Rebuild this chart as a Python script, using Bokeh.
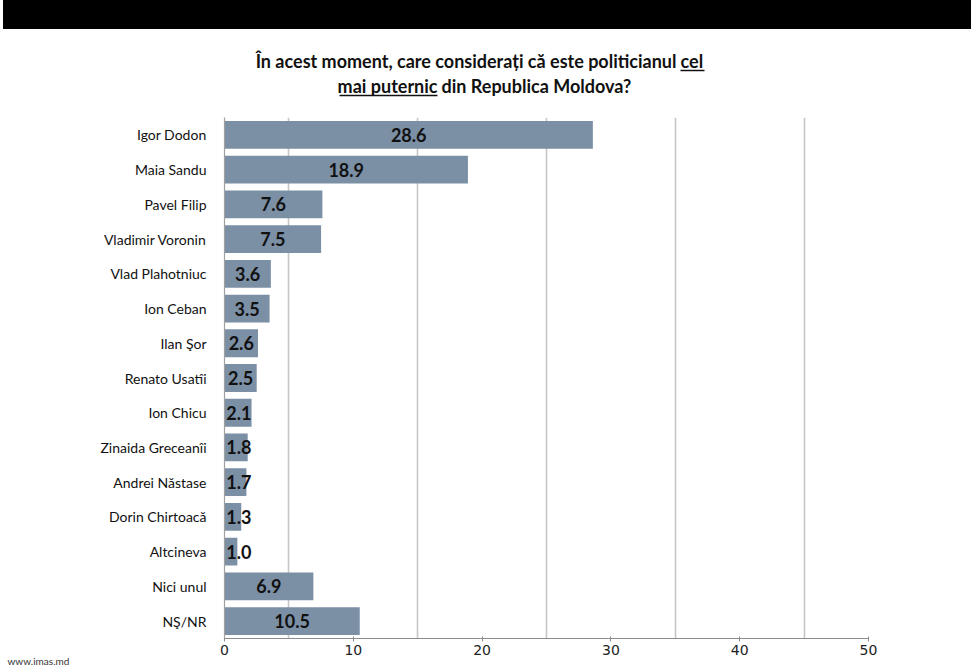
from bokeh.plotting import figure
from bokeh.models import Range1d, FactorRange, FixedTicker, ColumnDataSource, Label, Div
from bokeh.layouts import column
from bokeh.core.properties import value
from bokeh.embed import file_html
from bokeh.resources import INLINE

categories = ["Igor Dodon", "Maia Sandu", "Pavel Filip", "Vladimir Voronin",
              "Vlad Plahotniuc", "Ion Ceban", "Ilan Şor", "Renato Usatîi",
              "Ion Chicu", "Zinaida Greceanîi", "Andrei Năstase",
              "Dorin Chirtoacă", "Altcineva", "Nici unul", "NŞ/NR"]
values = [28.6, 18.9, 7.6, 7.5, 3.6, 3.5, 2.6, 2.5, 2.1, 1.8, 1.7, 1.3, 1.0, 6.9, 10.5]
xticks = [0, 10, 20, 30, 40, 50]
grid_ticks = [5, 15, 25, 35, 45]
title_line1 = "În acest moment, care considerați că este politicianul"
title_u1 = "cel"
title_u2 = "mai puternic"
title_line2 = "din Republica Moldova?"
footer = "www.imas.md"

FONT = "Lato"
BAR = "#7b8fa5"
W = 971

# ---------- black banner ----------
banner = Div(text="", width=W, height=29, margin=(0, 0, 0, 0),
             styles={"background-color": "black", "border-left": "3px solid white",
                     "box-sizing": "border-box"})

# ---------- title ----------
head = figure(width=W, height=79, x_range=Range1d(224, 868), y_range=Range1d(108, 29),
              output_backend="svg", toolbar_location=None,
              min_border_left=224, min_border_right=W - 868, min_border_top=0, min_border_bottom=0,
              x_axis_location=None, y_axis_location=None)
head.grid.visible = False
head.outline_line_color = None

tstyle = dict(text_baseline="middle", text_font=value(FONT), text_font_style="bold",
              text_font_size="18px", text_color="#111111")
head.text(x=[676], y=[60], text=[title_line1], text_align="right", **tstyle)
head.text(x=[680], y=[60], text=[title_u1], text_align="left", **tstyle)
head.segment(x0=[680], x1=[704], y0=[70], y1=[70], line_color="#111111", line_width=1.3)
head.text(x=[437], y=[85], text=[title_u2], text_align="right", **tstyle)
head.text(x=[441], y=[85], text=[title_line2], text_align="left", **tstyle)
head.segment(x0=[339], x1=[437], y0=[95], y1=[95], line_color="#111111", line_width=1.3)

# ---------- main chart ----------
lab_x = [max(v / 2, 1.12) for v in values]
src = ColumnDataSource(dict(cat=categories, val=values, lx=lab_x,
                            lab=[f"{v:.1f}" for v in values]))

p = figure(width=W, height=669 - 108, y_range=FactorRange(factors=categories[::-1]),
           x_range=Range1d(0, 50), output_backend="svg", toolbar_location=None,
           min_border_left=224, min_border_right=W - 868, min_border_top=9, min_border_bottom=22)
p.outline_line_color = None
p.ygrid.visible = False
p.xgrid.ticker = FixedTicker(ticks=grid_ticks)
p.xgrid.grid_line_color = "#c6c6c6"
p.xgrid.grid_line_width = 1.6

p.hbar(y="cat", right="val", left=0, height=0.8, source=src, fill_color=BAR, line_color=None)
p.text(x="lx", y="cat", text="lab", source=src, text_align="center", text_baseline="middle",
       text_font=value(FONT), text_font_style="bold", text_font_size="18px", text_color="#111111")

p.xaxis.ticker = FixedTicker(ticks=xticks)
p.xaxis.axis_line_color = "#8c8c8c"
p.xaxis.axis_line_width = 1.2
p.xaxis.major_tick_line_color = "#8c8c8c"
p.xaxis.major_tick_in = 2
p.xaxis.major_tick_out = 3
p.xaxis.minor_tick_line_color = None
p.xaxis.major_label_standoff = 3
p.xaxis.major_label_text_font = "DejaVu Sans"
p.xaxis.major_label_text_font_size = "14px"
p.xaxis.major_label_text_color = "#222222"

p.yaxis.axis_line_color = "#a0a0a0"
p.yaxis.axis_line_width = 1.2
p.yaxis.major_tick_line_color = None
p.yaxis.minor_tick_line_color = None
p.yaxis.major_label_standoff = 12
p.yaxis.major_label_text_font = FONT
p.yaxis.major_label_text_font_size = "14px"
p.yaxis.major_label_text_color = "#111111"

p.add_layout(Label(x=-217, y=3, x_units="screen", y_units="screen", text=footer,
                   text_font=FONT, text_font_size="10px", text_color="#333333",
                   text_align="left", text_baseline="bottom"), "below")

layout = column(banner, head, p, spacing=0)
open("out.html", "w").write(file_html(layout, INLINE))
